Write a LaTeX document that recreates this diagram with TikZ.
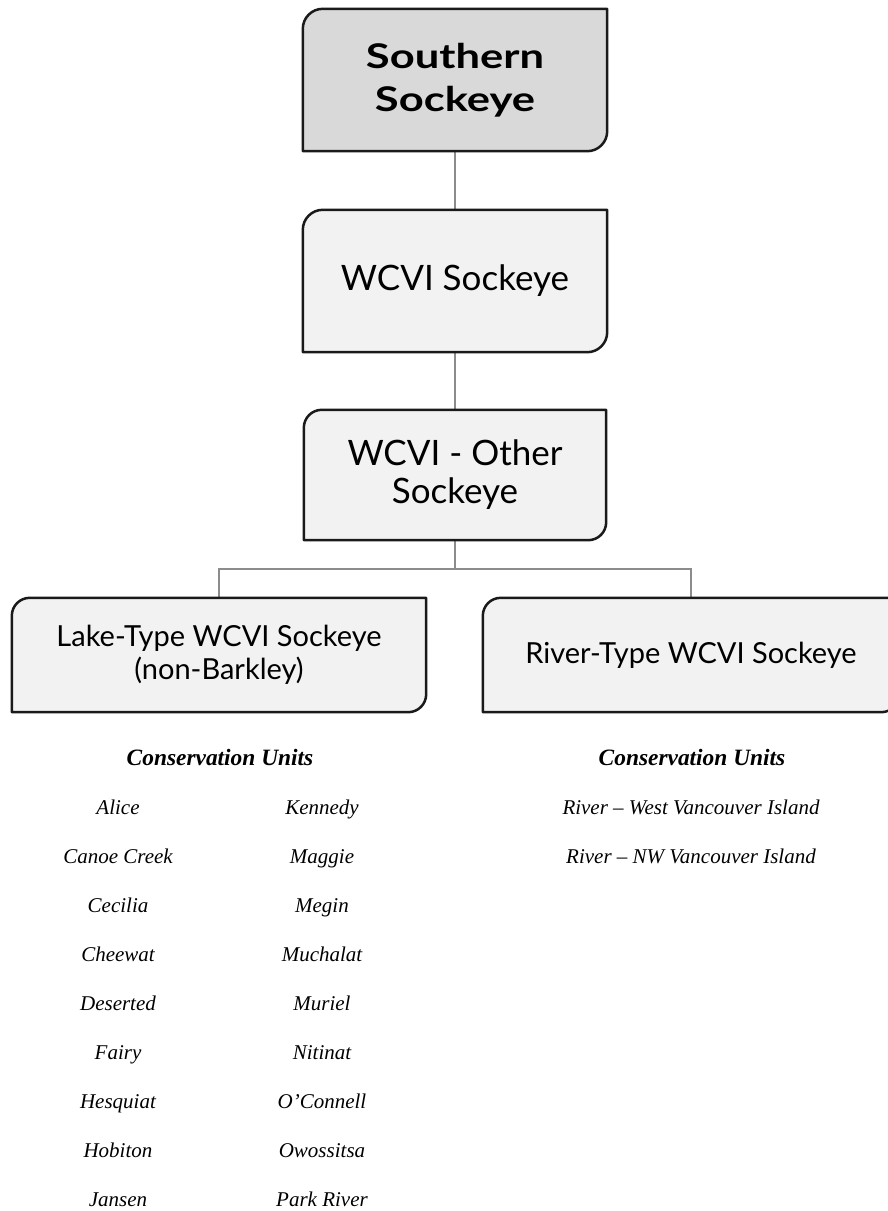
\documentclass[tikz,border=0pt]{standalone}
\usepackage{fontspec}
\newfontfamily\boxfont{Lato}
\newfontfamily\boxbold{Lato}[FakeStretch=1.28]
\newfontfamily\cufont{Liberation Serif}
\usetikzlibrary{backgrounds}
\definecolor{boxline}{HTML}{1A1A1A}
\definecolor{conn}{HTML}{8C8C8C}
\definecolor{fillA}{HTML}{D9D9D9}
\definecolor{fillB}{HTML}{F2F2F2}
\tikzset{
  orgbox/.style={rectangle, draw=none, align=center, inner sep=0pt},
  link/.style={draw=conn, line width=2pt},
  cu/.style={font=\cufont\itshape\fontsize{21}{21}\selectfont, inner sep=0pt, anchor=base},
  cuhead/.style={font=\cufont\itshape\bfseries\fontsize{23.4}{23.4}\selectfont, inner sep=0pt, anchor=base},
  shapeline/.style={line width=2.5pt, draw=boxline, line join=round},
}
\newcommand\orgshape[3]{%
  \draw[shapeline, fill=#2]
    (#1.south west) -- ([yshift=-#3]#1.north west)
    arc[start angle=180,end angle=90,radius=#3] -- (#1.north east)
    -- ([yshift=#3]#1.south east)
    arc[start angle=0,end angle=-90,radius=#3] -- cycle;}
\begin{document}
\begin{tikzpicture}[x=1pt,y=1pt]
\useasboundingbox (0,0) rectangle (888,-1211);
\node[orgbox, minimum width=304pt, minimum height=142pt,
      font=\boxbold\bfseries\fontsize{34}{43}\selectfont] (top) at (455,-80) {Southern\\Sockeye};
\node[orgbox, minimum width=304pt, minimum height=142pt,
      font=\boxfont\fontsize{35}{38}\selectfont] (wcvi) at (455,-281) {WCVI Sockeye};
\node[orgbox, minimum width=302pt, minimum height=130pt,
      font=\boxfont\fontsize{35}{38}\selectfont] (other) at (455,-475) {WCVI - Other\\Sockeye};
\node[orgbox, minimum width=414pt, minimum height=114pt,
      font=\boxfont\fontsize{29}{33}\selectfont] (lake) at (219,-655) {Lake-Type WCVI Sockeye\\(non-Barkley)};
\node[orgbox, minimum width=416pt, minimum height=114pt,
      font=\boxfont\fontsize{29}{33}\selectfont] (river) at (691,-655) {River-Type WCVI Sockeye};
\coordinate (split) at (455,-569);
\begin{scope}[on background layer]
  \draw[link] (top.south) -- (wcvi.north);
  \draw[link] (wcvi.south) -- (other.north);
  \draw[link] (other.south) -- (split) -| (lake.north);
  \draw[link] (split) -| (river.north);
  \orgshape{top}{fillA}{20pt}
  \orgshape{wcvi}{fillB}{20pt}
  \orgshape{other}{fillB}{18pt}
  \orgshape{lake}{fillB}{18pt}
  \orgshape{river}{fillB}{18pt}
\end{scope}
\node[cuhead] (lhead) at (220,-765) {Conservation Units};
\node[cuhead] (rhead) at (692,-765) {Conservation Units};
\foreach \t [count=\i from 0] in {Alice, Canoe Creek, Cecilia, Cheewat, Deserted, Fairy, Hesquiat, Hobiton, Jansen}
  \node[cu] (la\i) at (118,{-814-49*\i}) {\t};
\foreach \t [count=\i from 0] in {Kennedy, Maggie, Megin, Muchalat, Muriel, Nitinat, O’Connell, Owossitsa, Park River}
  \node[cu] (lb\i) at (322,{-814-49*\i}) {\t};
\node[cu] (r0) at (691,-814) {River – West Vancouver Island};
\node[cu] (r1) at (691,-863) {River – NW Vancouver Island};
\end{tikzpicture}
\end{document}
